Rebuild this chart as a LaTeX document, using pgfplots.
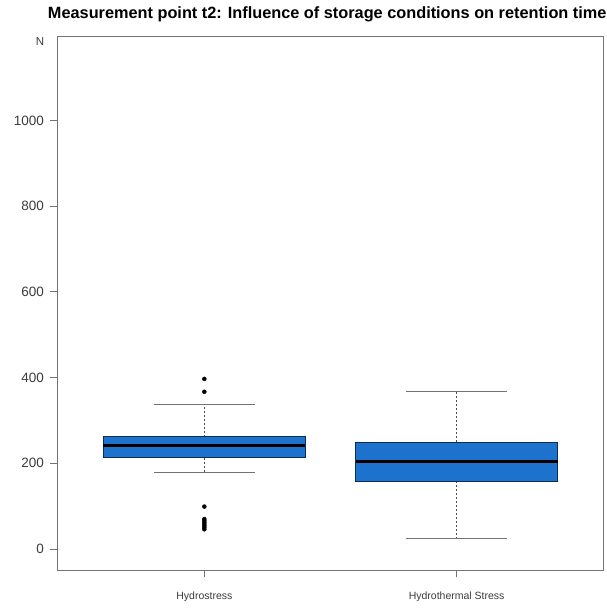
\documentclass[border=0pt]{standalone}
\usepackage{pgfplots}
\pgfplotsset{compat=1.18}
\usepgfplotslibrary{statistics}
\usepackage{fontspec}
\setmainfont{Liberation Sans}
\definecolor{boxblue}{RGB}{28,114,204}
\definecolor{framegray}{RGB}{115,115,115}
\definecolor{txtgray}{RGB}{60,60,60}
\pgfplotsset{
  boxplot/draw direction=y,
  boxplot/box extend=0.8,
  boxplot/every box/.style={fill=boxblue, draw=black!60!boxblue, line width=0.7pt},
  boxplot/every median/.style={black, line width=2.6pt},
  boxplot/draw/whisker/.code 2 args={
    \draw[black!70, dash pattern=on 2pt off 2pt, line width=0.9pt]
      (boxplot box cs:#1,0.5) -- (boxplot box cs:#2,0.5);
    \draw[framegray, line width=1.3pt]
      (boxplot box cs:#2,0.25) -- (boxplot box cs:#2,0.75);
  },
}
\begin{document}
\begin{tikzpicture}
\useasboundingbox (-58pt,-38pt) rectangle (549pt,570pt);
\begin{axis}[
  at={(0pt,0pt)}, anchor=south west,
  scale only axis, width=545pt, height=533pt,
  clip=false,
  xmin=0.42, xmax=2.58, ymin=-49, ymax=1195,
  xtick={1,2}, xticklabels={Hydrostress, Hydrothermal Stress},
  ytick={0,200,400,600,800,1000},
  scaled ticks=false,
  /pgf/number format/1000 sep={},
  /pgf/number format/assume math mode=true,
  xtick pos=bottom, ytick pos=left, tick align=outside,
  major tick length=7.5pt,
  axis line style={framegray, line width=1pt},
  tick style={framegray, line width=1pt},
  yticklabel style={font=\fontsize{13.5}{15}\selectfont, text=txtgray, xshift=-3pt},
  xticklabel style={font=\fontsize{10.5}{12}\selectfont, text=txtgray, yshift=-11pt},
  title={Measurement point t2: Influence of storage conditions on retention time},
  title style={font=\bfseries\fontsize{16.3}{18}\selectfont, at={(axis description cs:0.494,1)}, anchor=base, yshift=12pt},
]
\addplot[boxplot prepared={draw position=1, lower whisker=178, lower quartile=213, median=241, upper quartile=262, upper whisker=338},
  mark=*, mark size=2pt, mark options={black, fill=black}]
  table[row sep=\\, y index=0] {data\\ 397\\ 367\\ 99\\ 70\\ 66\\ 62\\ 58\\ 54\\ 50\\ 46\\};
\addplot[boxplot prepared={draw position=2, lower whisker=25, lower quartile=159, median=204, upper quartile=250, upper whisker=367},
  mark=*, mark size=2pt, mark options={black, fill=black}]
  coordinates {};
\node[font=\fontsize{11.5}{13}\selectfont, text=txtgray] at (axis description cs:0,1) [xshift=-18pt, yshift=-5pt] {N};
\end{axis}
\end{tikzpicture}
\end{document}
